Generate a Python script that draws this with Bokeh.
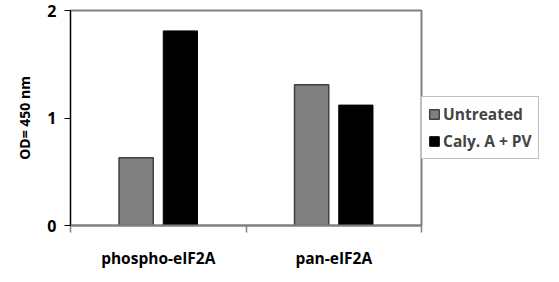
from bokeh.plotting import figure
from bokeh.models import ColumnDataSource, FixedTicker, Legend, LegendItem, Range1d
from bokeh.embed import file_html
from bokeh.resources import INLINE

categories = ["phospho-eIF2A", "pan-eIF2A"]
series_names = ["Untreated", "Caly. A + PV"]
untreated = [0.63, 1.31]
caly_pv = [1.81, 1.12]
y_ticks = [0, 1, 2]

FONT = "Open Sans"

p = figure(width=559, height=282, output_backend="svg", toolbar_location=None,
           x_range=Range1d(0, len(categories)), y_range=Range1d(0, 2),
           min_border_left=70, min_border_right=0, min_border_top=10, min_border_bottom=57)
p.frame_width = 351
p.frame_height = 215

centers = [i + 0.5 for i in range(len(categories))]
off = 0.126
w = 0.195
src1 = ColumnDataSource(dict(x=[c - off for c in centers], top=untreated))
src2 = ColumnDataSource(dict(x=[c + off for c in centers], top=caly_pv))
r1 = p.vbar(x="x", top="top", width=w, source=src1, fill_color="#808080",
            line_color="#404040", line_width=1.5)
r2 = p.vbar(x="x", top="top", width=w, source=src2, fill_color="#000000",
            line_color="#000000", line_width=1)

p.xgrid.visible = False
p.ygrid.visible = False
p.outline_line_color = "#808080"
p.outline_line_width = 2
p.background_fill_color = "white"
p.border_fill_color = "white"

# x axis
xa = p.xaxis[0]
xa.ticker = FixedTicker(ticks=centers, minor_ticks=[0, 1, 2])
xa.major_label_overrides = {c: name for c, name in zip(centers, categories)}
xa.major_tick_line_color = None
xa.minor_tick_in = 0
xa.minor_tick_out = 7
xa.minor_tick_line_color = "#808080"
xa.minor_tick_line_width = 1.5
xa.axis_line_color = "#808080"
xa.axis_line_width = 2
xa.major_label_text_font = FONT
xa.major_label_text_font_style = "bold"
xa.major_label_text_font_size = "15.5px"
xa.major_label_text_color = "#000000"
xa.major_label_standoff = 14

# y axis
ya = p.yaxis[0]
ya.ticker = FixedTicker(ticks=y_ticks, minor_ticks=[])
ya.major_tick_in = 0
ya.major_tick_out = 6
ya.major_tick_line_color = "#000000"
ya.axis_line_color = "#000000"
ya.axis_line_width = 1
ya.major_label_text_font = FONT
ya.major_label_text_font_style = "bold"
ya.major_label_text_font_size = "16px"
ya.major_label_text_color = "#000000"
ya.major_label_standoff = 8
ya.axis_label = "OD= 450 nm"
ya.axis_label_text_font = FONT
ya.axis_label_text_font_style = "bold"
ya.axis_label_text_font_size = "14px"
ya.axis_label_text_color = "#000000"
ya.axis_label_standoff = 10

legend = Legend(items=[LegendItem(label=series_names[0], renderers=[r1]),
                       LegendItem(label=series_names[1], renderers=[r2])],
                location=(0, 66))
legend.border_line_color = "#808080"
legend.border_line_width = 1
legend.label_text_font = FONT
legend.label_text_font_style = "bold"
legend.label_text_font_size = "15.5px"
legend.label_height = 18
legend.glyph_width = 12
legend.glyph_height = 12
legend.label_standoff = 3
legend.spacing = 5
legend.padding = 6
legend.margin = 6
legend.background_fill_alpha = 1
p.add_layout(legend, "right")

open("out.html", "w").write(file_html(p, INLINE))
